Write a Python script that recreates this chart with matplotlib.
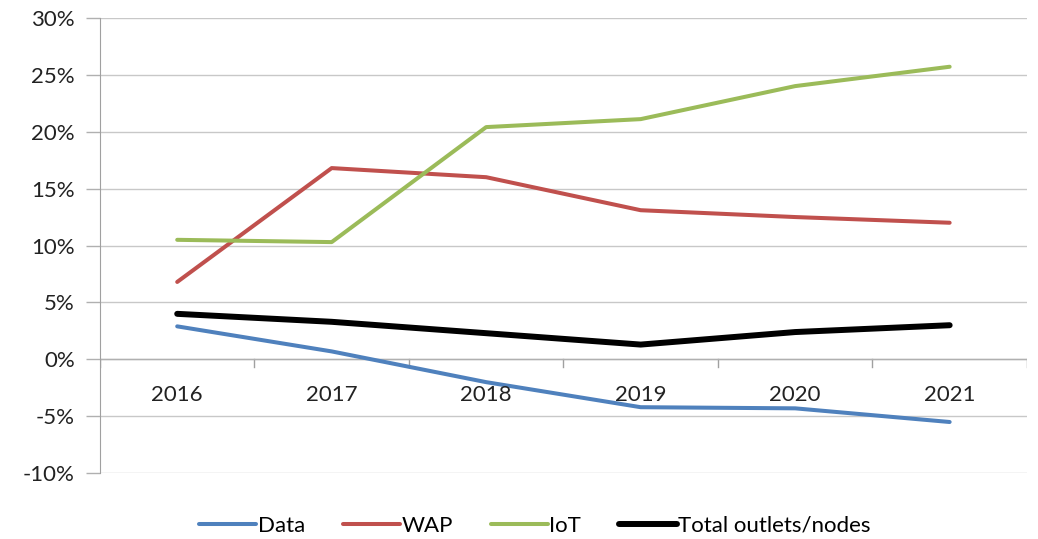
import numpy as np
import matplotlib.pyplot as plt
from matplotlib.ticker import FuncFormatter

plt.rcParams['font.family'] = ['Lato', 'DejaVu Sans']

years = ['2016', '2017', '2018', '2019', '2020', '2021']
data = [2.9, 0.7, -2.0, -4.2, -4.3, -5.5]
wap = [6.8, 16.8, 16.0, 13.1, 12.5, 12.0]
iot = [10.5, 10.3, 20.4, 21.1, 24.0, 25.7]
total = [4.0, 3.3, 2.3, 1.3, 2.4, 3.0]

fig = plt.figure(figsize=(10.38, 5.39), dpi=100)
ax = fig.add_axes([0.0963, 0.122, 0.893, 0.845])

x = np.arange(len(years))
ax.plot(x, data, color='#4F81BD', lw=2.9, label='Data', solid_capstyle='round')
ax.plot(x, wap, color='#C0504D', lw=2.9, label='WAP', solid_capstyle='round')
ax.plot(x, iot, color='#9BBB59', lw=2.9, label='IoT', solid_capstyle='round')
ax.plot(x, total, color='black', lw=4.3, label='Total outlets/nodes', solid_capstyle='round')

ax.set_xlim(-0.5, len(years) - 0.5)
ax.set_ylim(-10, 30)
ax.set_yticks(np.arange(-10, 31, 5))
ax.yaxis.set_major_formatter(FuncFormatter(lambda v, p: '%d%%' % v))
ax.tick_params(axis='y', labelsize=16, labelcolor='#222222', color='#B0B0B0',
               length=10, width=1, pad=8)
ax.grid(axis='y', color='#C8C8C8', lw=1)
ax.set_axisbelow(True)

# x axis sits at zero, ticks between categories
ax.set_xticks([])
for i in range(len(years) + 1):
    ax.plot([i - 0.5, i - 0.5], [0, -0.7], color='#A0A0A0', lw=1, zorder=1)
for i, yr in enumerate(years):
    ax.text(i, -3.1, yr, ha='center', va='center', fontsize=16, color='#222222')
ax.axhline(0, color='#B0B0B0', lw=1, zorder=1)

for s in ['top', 'right', 'bottom']:
    ax.spines[s].set_visible(False)
ax.spines['left'].set_color('#A0A0A0')

handles, labels = ax.get_legend_handles_labels()
fig.legend(handles, labels, loc='center', bbox_to_anchor=(0.515, 0.025), ncol=4,
           frameon=False, fontsize=16, handlelength=2.6, handletextpad=0.05,
           columnspacing=1.7)

plt.savefig('out.png', dpi=100)
